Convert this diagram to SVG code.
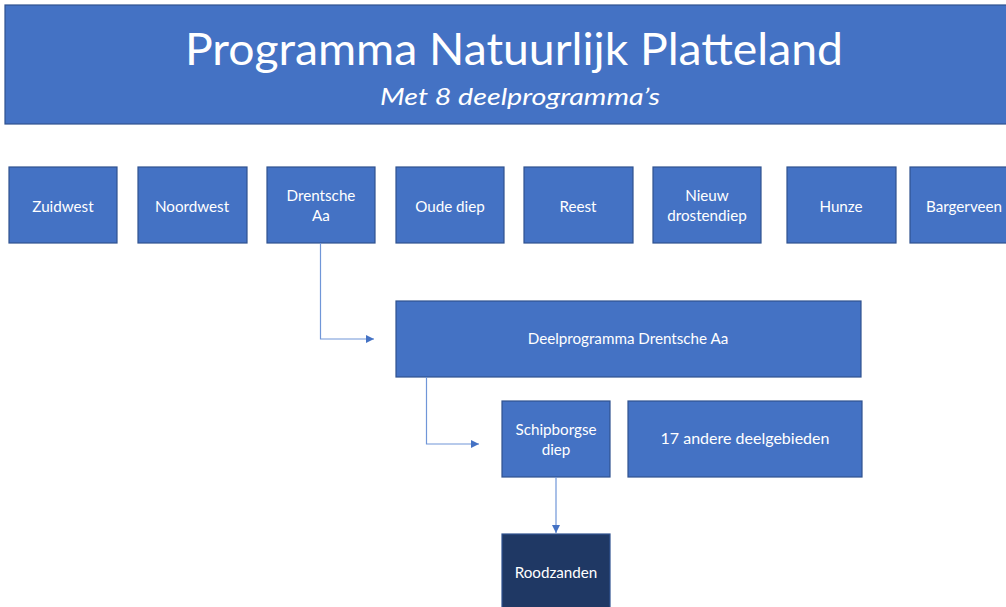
<svg xmlns="http://www.w3.org/2000/svg" width="1006" height="607" viewBox="0 0 1006 607">
<defs>
<style>
.box{fill:#4472C4;stroke:#2F528F;stroke-width:1.2}
.dark{fill:#1F3864;stroke:#2F528F;stroke-width:1.2}
.lbl{font-family:Lato,"Open Sans","Liberation Sans",sans-serif;font-size:15.2px;fill:#ffffff;text-anchor:middle}
.con{fill:none;stroke:#7096D8;stroke-width:1.2}
</style>
<marker id="arr" viewBox="0 0 10 10" refX="10" refY="5" markerWidth="8" markerHeight="8" markerUnits="userSpaceOnUse" orient="auto">
<path d="M0,0 L10,5 L0,10 z" fill="#4472C4"/>
</marker>
</defs>
<rect width="1006" height="607" fill="#ffffff"/>
<g id="header">
<rect class="box" x="5" y="5" width="1010" height="119"/>
<text x="514" y="65" font-family="Lato,'Open Sans','Liberation Sans',sans-serif" font-size="44" fill="#ffffff" text-anchor="middle" textLength="658" lengthAdjust="spacingAndGlyphs">Programma Natuurlijk Platteland</text>
<text x="520" y="105" font-family="Lato,'Open Sans','Liberation Sans',sans-serif" font-size="23" font-style="italic" fill="#ffffff" text-anchor="middle" textLength="280" lengthAdjust="spacingAndGlyphs">Met 8 deelprogramma’s</text>
</g>
<g id="zuidwest"><rect class="box" x="9" y="167" width="108" height="76"/><text class="lbl" x="63" y="212">Zuidwest</text></g>
<g id="noordwest"><rect class="box" x="138" y="167" width="109" height="76"/><text class="lbl" x="192" y="212">Noordwest</text></g>
<g id="drentsche-aa"><rect class="box" x="267" y="167" width="108" height="76"/><text class="lbl" x="321" y="201">Drentsche</text><text class="lbl" x="321" y="221">Aa</text></g>
<g id="oude-diep"><rect class="box" x="396" y="167" width="108" height="76"/><text class="lbl" x="450" y="212">Oude diep</text></g>
<g id="reest"><rect class="box" x="524" y="167" width="109" height="76"/><text class="lbl" x="578" y="212">Reest</text></g>
<g id="nieuw-drostendiep"><rect class="box" x="653" y="167" width="108" height="76"/><text class="lbl" x="707" y="201">Nieuw</text><text class="lbl" x="707" y="221">drostendiep</text></g>
<g id="hunze"><rect class="box" x="787" y="167" width="109" height="76"/><text class="lbl" x="841" y="212">Hunze</text></g>
<g id="bargerveen"><rect class="box" x="910" y="167" width="108" height="76"/><text class="lbl" x="964" y="212">Bargerveen</text></g>
<g id="deelprogramma"><rect class="box" x="396" y="301" width="465" height="76"/><text class="lbl" x="628" y="344">Deelprogramma Drentsche Aa</text></g>
<g id="schipborgse-diep"><rect class="box" x="502" y="401" width="108" height="76"/><text class="lbl" x="556" y="435">Schipborgse</text><text class="lbl" x="556" y="455">diep</text></g>
<g id="andere"><rect class="box" x="628" y="401" width="234" height="76"/><text class="lbl" x="745" y="444" style="font-size:16px">17 andere deelgebieden</text></g>
<g id="roodzanden"><rect class="dark" x="502" y="534" width="108" height="80"/><text class="lbl" x="556" y="578">Roodzanden</text></g>
<g id="connectors">
<path class="con" d="M320.5,243 V339 H374" marker-end="url(#arr)"/>
<path class="con" d="M426.5,377 V444 H479" marker-end="url(#arr)"/>
<path class="con" d="M556,477 V533" marker-end="url(#arr)"/>
</g>
</svg>
